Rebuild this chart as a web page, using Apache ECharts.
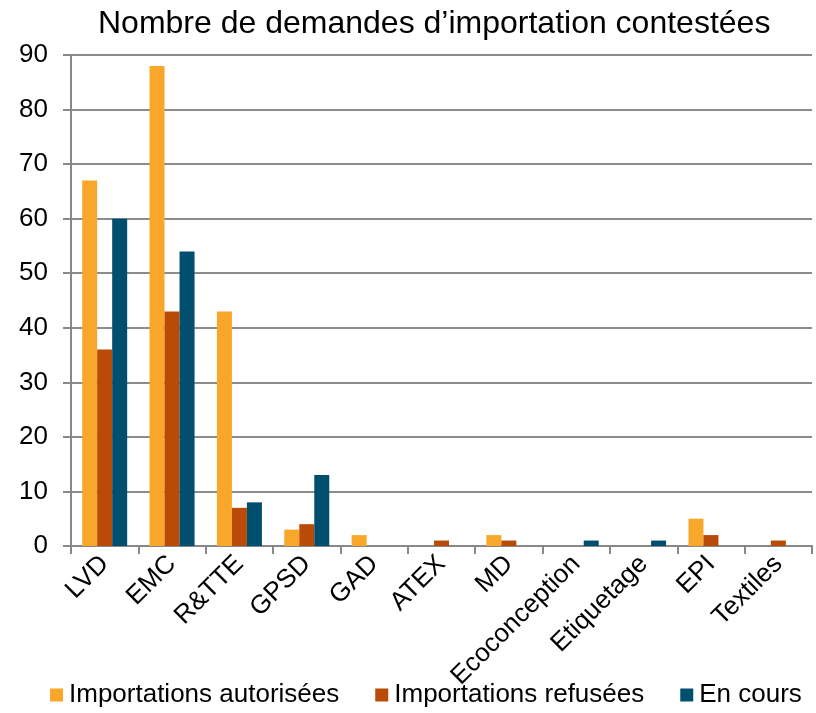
<!DOCTYPE html>
<html>
<head>
<meta charset="utf-8">
<script src="https://cdn.jsdelivr.net/npm/echarts@6/dist/echarts.min.js"></script>
<style>
html,body{margin:0;padding:0;background:#fff;}
#chart{width:816px;height:713px;}
</style>
</head>
<body>
<div id="chart"></div>
<script>
const categories = ['LVD','EMC','R&TTE','GPSD','GAD','ATEX','MD','Ecoconception','Etiquetage','EPI','Textiles'];
const seriesNames = ['Importations autorisées','Importations refusées','En cours'];
const autorisees = [67, 88, 43, 3, 2, 0, 2, 0, 0, 5, 0];
const refusees   = [36, 43, 7, 4, 0, 1, 1, 0, 0, 2, 1];
const enCours    = [60, 54, 8, 13, 0, 0, 0, 1, 1, 0, 0];
const colors = ['#F9A72B', '#B94B06', '#004F6F'];
const font = 'Liberation Sans, Arial, sans-serif';

const chart = echarts.init(document.getElementById('chart'));
const mk = (name, data, i) => ({
  name, type: 'bar', data,
  barWidth: 15, barGap: '0%',
  itemStyle: { color: colors[i] },
  emphasis: { disabled: true }
});
chart.setOption({
  animation: false,
  textStyle: { fontFamily: font },
  title: {
    text: 'Nombre de demandes d\u2019importation contestées',
    left: 93, top: 3,
    textStyle: { fontFamily: font, fontSize: 32, fontWeight: 'normal', color: '#000' }
  },
  legend: {
    bottom: 0, left: 45,
    icon: 'rect', itemWidth: 13, itemHeight: 13, itemGap: 36,
    textStyle: { fontFamily: font, fontSize: 26, color: '#000', padding: [0, 0, 0, 1] },
    data: seriesNames
  },
  grid: { left: 71, right: 4, top: 55, bottom: 167 },
  xAxis: {
    type: 'category', data: categories,
    axisLine: { lineStyle: { color: '#888', width: 2 } },
    axisTick: { show: true, length: 8, lineStyle: { color: '#888', width: 2 } },
    axisLabel: { rotate: 45, fontSize: 26, color: '#000', fontFamily: font, margin: 14, interval: 0 }
  },
  yAxis: {
    type: 'value', min: 0, max: 90, interval: 10,
    axisLine: { show: true, lineStyle: { color: '#888', width: 2 } },
    axisTick: { show: true, length: 8, lineStyle: { color: '#888', width: 2 } },
    axisLabel: { fontSize: 26, color: '#000', fontFamily: font, margin: 23 },
    splitLine: { lineStyle: { color: '#8c8c8c', width: 2 } }
  },
  series: [mk(seriesNames[0], autorisees, 0), mk(seriesNames[1], refusees, 1), mk(seriesNames[2], enCours, 2)]
});
</script>
</body>
</html>
